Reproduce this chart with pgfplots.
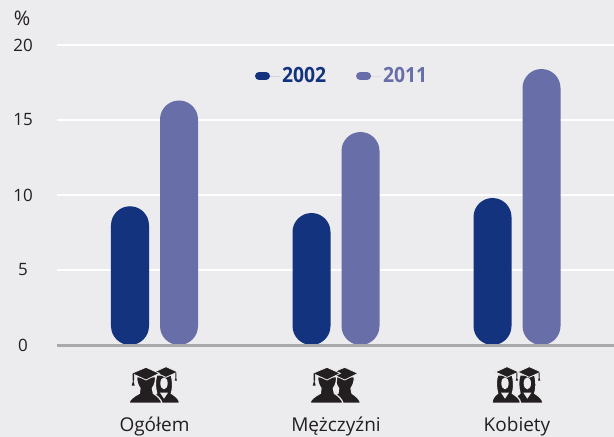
\documentclass[border=0pt]{standalone}
\usepackage{pgfplots}
\pgfplotsset{compat=1.18}
\usepackage{fontspec}
\setmainfont{Open Sans}
\newfontfamily\lgfont[FakeStretch=0.92]{Open Sans}
\definecolor{bg}{HTML}{ECECEE}
\definecolor{cA}{HTML}{14337F}
\definecolor{cB}{HTML}{676EA8}
\definecolor{ax}{HTML}{A9A9AB}
\definecolor{ink}{HTML}{231F20}
\newcommand{\gradman}[1]{%
 \begin{scope}[xshift=#1*1pt/3]
 \fill[ink,draw=bg,line width=1.2pt] (87,190) .. controls (88,178) and (100,170) .. (118,160) -- (120,145) .. controls (113,135) and (110,125) .. (110,110) -- (167,110) .. controls (167,125) and (164,135) .. (157,145) -- (160,160) .. controls (172,168) and (184,178) .. (186,190) -- cycle;
 \fill[ink,draw=bg,line width=.8pt] (95,100)--(138,82)--(178,100)--(138,120)--cycle;
 \fill[ink] (98,100) rectangle (102,122) (100,120)--(104,137)--(95,137)--cycle;
 \end{scope}}
\newcommand{\gradwoman}[1]{%
 \begin{scope}[xshift=#1*1pt/3]
 \fill[ink,draw=bg,line width=1.2pt] (153,190) .. controls (153,175) and (160,168) .. (170,160) .. controls (165,140) and (165,120) .. (170,105) -- (214,105) .. controls (219,125) and (219,145) .. (214,160) .. controls (225,168) and (238,175) .. (239,190) -- cycle;
 \fill[bg] (192,130) ellipse (11 and 18);
 \fill[bg] (180,158)--(204,158)--(192,176)--cycle;
 \fill[ink,draw=bg,line width=.8pt] (163,96)--(198,80)--(233,96)--(198,112)--cycle;
 \fill[ink] (226,98) rectangle (229,112) (227.5,110)--(231,122)--(224,122)--cycle;
 \end{scope}}
\begin{document}
\begin{tikzpicture}[x=1pt,y=1pt]
\useasboundingbox (0,0) rectangle (614,437);
\fill[bg] (0,0) rectangle (614,437);
\begin{axis}[
  at={(57pt,92pt)}, anchor=origin,
  scale only axis, width=557pt, height=300pt,
  xmin=57, xmax=614, ymin=0, ymax=20,
  axis x line*=bottom, axis y line*=left,
  axis line style={draw=none},
  clip=false,
  ytick={0,5,10,15,20},
  ymajorgrids, grid style={white,line width=2.4pt},
  xtick={154.5,336,517},
  xticklabels={Ogółem,Mężczyźni,Kobiety},
  major tick length=0pt,
  xticklabel style={anchor=base,yshift=-86pt,inner sep=0pt,font=\fontsize{19}{22}\selectfont,text=ink},
  yticklabel style={anchor=center,xshift=-34pt,font=\fontsize{17}{20}\selectfont,text=ink},
  /pgf/number format/assume math mode=true,
  bar width=38pt,
  legend style={at={(axis cs:255,17.93)},anchor=west,draw=none,fill=none,legend columns=2,
    /tikz/every even column/.append style={column sep=28pt},
    font=\lgfont\bfseries\fontsize{21}{24}\selectfont,
    inner sep=0pt,outer sep=0pt,
    legend cell align=left},
]
\addplot[ybar,bar shift=-24.5pt,fill=cA,draw=none,rounded corners=19pt,
  legend image code/.code={\path (0,0)--(25pt,0);\draw[cA,line width=8pt,line cap=round] (4pt,0)--(11pt,0);}]
  coordinates {(154.5,9.25) (336,8.8) (517,9.8)};
\addlegendentry{\textcolor{cA}{2002}}
\addplot[ybar,bar shift=24.5pt,fill=cB,draw=none,rounded corners=19pt,
  legend image code/.code={\path (0,0)--(25pt,0);\draw[cB,line width=8pt,line cap=round] (4pt,0)--(11pt,0);}]
  coordinates {(154.5,16.3) (336,14.2) (517,18.4)};
\addlegendentry{\textcolor{cB}{2011}}
\addplot[draw=ax,line width=3pt,forget plot] coordinates {(57,0) (614,0)};
\node[font=\fontsize{20}{22}\selectfont,text=ink] at (axis cs:22,21.8) {\%};
\end{axis}
\begin{scope}[shift={(100,97)},x=1pt/3,y=-1pt/3]
 \gradwoman{0}\gradman{0}
 \gradman{596}\gradman{543}
 \gradwoman{1090}\gradwoman{1023}
\end{scope}
\end{tikzpicture}
\end{document}
